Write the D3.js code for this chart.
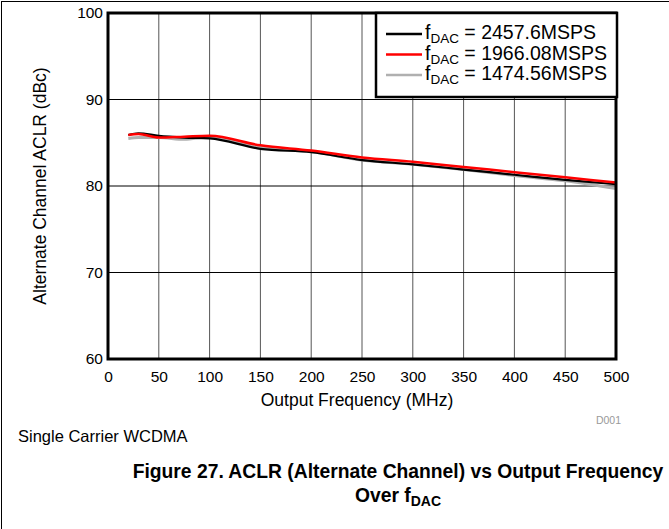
<!DOCTYPE html>
<html><head><meta charset="utf-8">
<script src="https://cdn.jsdelivr.net/npm/d3@7"></script>
<style>body{margin:0;background:#fff;} svg{display:block;font-family:"Liberation Sans",Arial,sans-serif;}</style>
</head><body>
<svg id="c" width="669" height="529"></svg>
<script>
const xTicks = [0,50,100,150,200,250,300,350,400,450,500];
const yTicks = [60,70,80,90,100];
const freqBlack = [20,30,50,75,100,150,200,250,300,350,400,450,500];
const valBlack  = [85.9,86.1,85.8,85.6,85.5,84.3,83.9,83.0,82.5,81.9,81.3,80.7,80.2];
const freqRed   = [20,30,50,75,100,150,200,250,300,350,400,450,500];
const valRed    = [85.9,86.0,85.6,85.7,85.8,84.7,84.1,83.3,82.8,82.2,81.6,81.0,80.4];
const freqGray  = [20,30,50,75,100,150,200,250,300,350,400,450,500];
const valGray   = [85.5,85.6,85.6,85.4,85.7,84.5,84.0,83.0,82.5,81.9,81.2,80.6,79.7];
const seriesNames = ["2457.6MSPS","1966.08MSPS","1474.56MSPS"];
const seriesColors = ["#000000","#ff0000","#b0b0b0"];

const svg = d3.select("#c");
const L=108,R=616,T=13,B=359;
const x = d3.scaleLinear().domain([0,500]).range([L,R]);
const y = d3.scaleLinear().domain([60,100]).range([B,T]);

// figure frame (left & top)
svg.append("line").attr("x1",1.5).attr("x2",1.5).attr("y1",1).attr("y2",529).attr("stroke","#000");
svg.append("line").attr("x1",1).attr("x2",669).attr("y1",1.5).attr("y2",1.5).attr("stroke","#000");

// grid
const g = svg.append("g");
g.selectAll(".vg").data(xTicks.slice(1,-1)).join("line")
  .attr("x1",d=>x(d)).attr("x2",d=>x(d)).attr("y1",T).attr("y2",B)
  .attr("stroke","#555").attr("stroke-width",1);
g.selectAll(".hg").data(yTicks.slice(1,-1)).join("line")
  .attr("x1",L).attr("x2",R).attr("y1",d=>y(d)).attr("y2",d=>y(d))
  .attr("stroke","#000").attr("stroke-width",1);

// axes (labels only)
const xa = svg.append("g").attr("transform",`translate(0,${B})`)
  .call(d3.axisBottom(x).tickValues(xTicks).tickSize(0).tickPadding(12).tickFormat(d3.format("d")));
const ya = svg.append("g").attr("transform",`translate(${L},0)`)
  .call(d3.axisLeft(y).tickValues(yTicks).tickSize(0).tickPadding(5).tickFormat(d3.format("d")));
[xa,ya].forEach(a=>{a.select(".domain").remove(); a.selectAll("text").attr("font-size",15.5).attr("fill","#000").attr("font-family","'Liberation Sans',Arial,sans-serif");});

// lines
const mk = (f,v)=>f.map((d,i)=>[d,v[i]]);
const data = [mk(freqGray,valGray), mk(freqBlack,valBlack), mk(freqRed,valRed)];
const cols = [seriesColors[2],seriesColors[0],seriesColors[1]];
const widths = [3,2.2,2.5];
const line = d3.line().x(d=>x(d[0])).y(d=>y(d[1])).curve(d3.curveMonotoneX);
data.forEach((d,i)=>svg.append("path").datum(d).attr("d",line).attr("fill","none")
  .attr("stroke",cols[i]).attr("stroke-width",widths[i]).attr("stroke-linejoin","round"));

// plot frame
svg.append("rect").attr("x",L).attr("y",T).attr("width",R-L).attr("height",B-T)
  .attr("fill","none").attr("stroke","#000").attr("stroke-width",3);

// legend
const lg = svg.append("g");
lg.append("rect").attr("x",376).attr("y",13).attr("width",241).attr("height",84)
  .attr("fill","#fff").attr("stroke","#000").attr("stroke-width",2.5);
seriesNames.forEach((n,i)=>{
  const yy = 34 + i*20.5;
  lg.append("line").attr("x1",386).attr("x2",422).attr("y1",yy).attr("y2",yy)
    .attr("stroke",seriesColors[i]).attr("stroke-width",2.5);
  const t = lg.append("text").attr("x",425).attr("y",yy+5).attr("font-size",19.5).attr("fill","#000");
  t.append("tspan").text("f");
  t.append("tspan").attr("font-size",13.5).attr("dy",4).text("DAC");
  t.append("tspan").attr("dy",-4).text(" = "+n);
});

// axis titles
svg.append("text").attr("x",357).attr("y",406).attr("text-anchor","middle").attr("font-size",17.5).text("Output Frequency (MHz)");
svg.append("text").attr("transform","translate(46,186) rotate(-90)").attr("text-anchor","middle").attr("font-size",17.5).text("Alternate Channel ACLR (dBc)");
svg.append("text").attr("x",621).attr("y",424).attr("text-anchor","end").attr("font-size",10.5).attr("fill","#999").text("D001");
svg.append("text").attr("x",18).attr("y",442).attr("font-size",16.5).text("Single Carrier WCDMA");
svg.append("text").attr("x",398).attr("y",478).attr("text-anchor","middle").attr("font-size",19.3).attr("font-weight","bold")
  .text("Figure 27. ACLR (Alternate Channel) vs Output Frequency");
const t2 = svg.append("text").attr("x",398).attr("y",502).attr("text-anchor","middle").attr("font-size",19.3).attr("font-weight","bold");
t2.append("tspan").text("Over f");
t2.append("tspan").attr("font-size",14).attr("dy",4).text("DAC");
</script>
</body></html>
